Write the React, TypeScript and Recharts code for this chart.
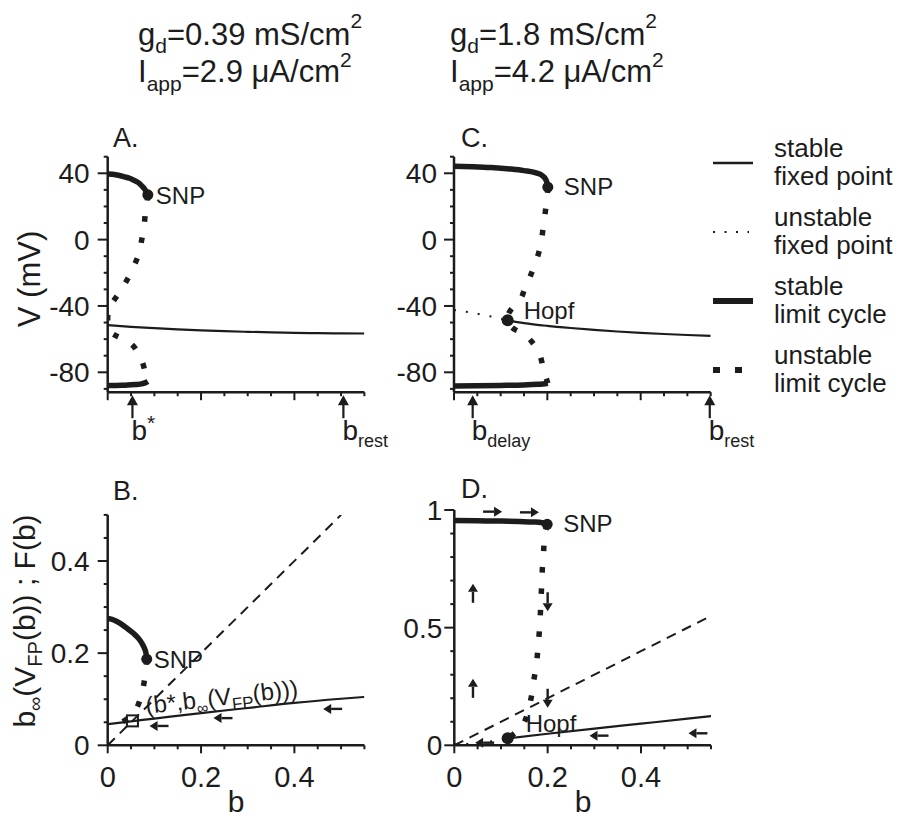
import React from 'react';
import { ComposedChart, Line, XAxis, YAxis, ReferenceDot } from 'recharts';

const FONT = '"Liberation Sans", Arial, Helvetica, sans-serif';
const INK = '#1c1c1c';
const PAGE_W = 902;
const PAGE_H = 821;

// ---------- axis ticks ----------
const bTicks = [0, 0.05, 0.1, 0.15, 0.2, 0.25, 0.3, 0.35, 0.4, 0.45, 0.5, 0.55];
const bMajorTicks = [0, 0.2, 0.4];
const vTicks = [-90, -80, -70, -60, -50, -40, -30, -20, -10, 0, 10, 20, 30, 40, 50];
const vMajorTicks = [-80, -40, 0, 40];
const gateTicksB = [0, 0.05, 0.1, 0.15, 0.2, 0.25, 0.3, 0.35, 0.4, 0.45, 0.5];
const gateMajorB = [0, 0.2, 0.4];
const gateTicksD = [0, 0.1, 0.2, 0.3, 0.4, 0.5, 0.6, 0.7, 0.8, 0.9, 1];
const gateMajorD = [0, 0.5, 1];

// ---------- panel A : V vs b, gd = 0.39 ----------
const aCycleUpper = [
  { b: 0, v: 39.5 }, { b: 0.017, v: 39.1 }, { b: 0.034, v: 38 }, { b: 0.047, v: 37 },
  { b: 0.055, v: 36 }, { b: 0.065, v: 34.5 }, { b: 0.073, v: 32.4 }, { b: 0.079, v: 30.5 },
  { b: 0.0836, v: 28.3 }, { b: 0.086, v: 27 },
];
const aCycleUnstable = [
  { b: 0.086, v: 27 }, { b: 0.084, v: 22 }, { b: 0.081, v: 17.4 }, { b: 0.079, v: 11 },
  { b: 0.076, v: 4.6 }, { b: 0.072, v: -1.5 }, { b: 0.068, v: -7.6 }, { b: 0.06, v: -13.5 },
  { b: 0.051, v: -19.4 }, { b: 0.04, v: -25 }, { b: 0.029, v: -30.2 }, { b: 0.016, v: -35.5 },
  { b: 0.004, v: -40.4 }, { b: 0.0005, v: -44 }, { b: 0, v: -48 }, { b: 0.0005, v: -52 },
  { b: 0.005, v: -55.6 }, { b: 0.022, v: -58.5 }, { b: 0.044, v: -61.6 }, { b: 0.06, v: -66 },
  { b: 0.071, v: -71.6 }, { b: 0.078, v: -77.5 }, { b: 0.082, v: -83.6 }, { b: 0.086, v: -85.5 },
];
const aCycleLower = [
  { b: 0, v: -88 }, { b: 0.03, v: -87.8 }, { b: 0.06, v: -87.4 }, { b: 0.075, v: -86.8 },
  { b: 0.083, v: -86 }, { b: 0.086, v: -85.5 },
];
const aFixedStable = [
  { b: 0, v: -51.6 }, { b: 0.05, v: -52.6 }, { b: 0.1, v: -53.4 }, { b: 0.15, v: -54.1 },
  { b: 0.2, v: -54.7 }, { b: 0.25, v: -55.2 }, { b: 0.3, v: -55.6 }, { b: 0.35, v: -55.9 },
  { b: 0.4, v: -56.2 }, { b: 0.45, v: -56.4 }, { b: 0.5, v: -56.5 }, { b: 0.55, v: -56.6 },
];
const aPoints = [{ b: 0.086, v: 27, name: 'SNP' }];
const aMarks = [
  { b: 0.053, main: 'b', sup: '*' },
  { b: 0.505, main: 'b', sub: 'rest' },
];

// ---------- panel C : V vs b, gd = 1.8 ----------
const cCycleUpper = [
  { b: 0, v: 44.3 }, { b: 0.04, v: 44 }, { b: 0.08, v: 43.5 }, { b: 0.12, v: 42.6 },
  { b: 0.15, v: 41.6 }, { b: 0.176, v: 40.2 }, { b: 0.19, v: 38.4 }, { b: 0.197, v: 36 },
  { b: 0.2, v: 33.5 }, { b: 0.201, v: 31.6 },
];
const cCycleUnstable = [
  { b: 0.201, v: 31.6 }, { b: 0.2, v: 27.5 }, { b: 0.198, v: 24 }, { b: 0.196, v: 17.5 },
  { b: 0.193, v: 11.4 }, { b: 0.19, v: 5 }, { b: 0.187, v: -1.2 }, { b: 0.182, v: -7.5 },
  { b: 0.175, v: -13.6 }, { b: 0.167, v: -19.5 }, { b: 0.159, v: -25 }, { b: 0.15, v: -30.8 },
  { b: 0.141, v: -36.4 }, { b: 0.121, v: -42.6 }, { b: 0.115, v: -48.6 }, { b: 0.124, v: -53 },
  { b: 0.139, v: -55.4 }, { b: 0.153, v: -57.6 }, { b: 0.168, v: -62 }, { b: 0.181, v: -67.4 },
  { b: 0.188, v: -73.5 }, { b: 0.193, v: -79.6 }, { b: 0.198, v: -84 }, { b: 0.201, v: -86.6 },
];
const cCycleLower = [
  { b: 0, v: -88.2 }, { b: 0.05, v: -88.1 }, { b: 0.1, v: -87.9 }, { b: 0.15, v: -87.6 },
  { b: 0.18, v: -87.2 }, { b: 0.195, v: -86.9 }, { b: 0.201, v: -86.6 },
];
const cFixedUnstable = [
  { b: 0, v: -42.4 }, { b: 0.04, v: -44.2 }, { b: 0.08, v: -46.4 }, { b: 0.115, v: -48.6 },
];
const cFixedStable = [
  { b: 0.115, v: -48.6 }, { b: 0.15, v: -50.3 }, { b: 0.2, v: -52 }, { b: 0.25, v: -53.3 },
  { b: 0.3, v: -54.4 }, { b: 0.35, v: -55.4 }, { b: 0.4, v: -56.2 }, { b: 0.45, v: -56.9 },
  { b: 0.5, v: -57.5 }, { b: 0.55, v: -58 },
];
const cPoints = [
  { b: 0.201, v: 31.6, name: 'SNP' },
  { b: 0.115, v: -48.6, name: 'Hopf' },
];
const cMarks = [
  { b: 0.04, main: 'b', sub: 'delay' },
  { b: 0.548, main: 'b', sub: 'rest' },
];

// ---------- panel B : b_inf(V_FP(b)) and F(b), gd = 0.39 ----------
const bCycleStable = [
  { b: 0, y: 0.2755 }, { b: 0.013, y: 0.272 }, { b: 0.026, y: 0.265 }, { b: 0.04, y: 0.255 },
  { b: 0.055, y: 0.243 }, { b: 0.066, y: 0.232 }, { b: 0.073, y: 0.222 }, { b: 0.078, y: 0.212 },
  { b: 0.082, y: 0.2 }, { b: 0.0836, y: 0.187 },
];
const bCycleUnstable = [
  { b: 0.0836, y: 0.187 }, { b: 0.082, y: 0.165 }, { b: 0.079, y: 0.143 }, { b: 0.075, y: 0.12 },
  { b: 0.069, y: 0.098 }, { b: 0.06, y: 0.077 }, { b: 0.045, y: 0.06 }, { b: 0.025, y: 0.048 },
  { b: 0.005, y: 0.042 }, { b: 0, y: 0.041 },
];
const bFixedStable = [
  { b: 0, y: 0.046 }, { b: 0.05, y: 0.052 }, { b: 0.1, y: 0.058 }, { b: 0.2, y: 0.07 },
  { b: 0.3, y: 0.081 }, { b: 0.4, y: 0.092 }, { b: 0.5, y: 0.101 }, { b: 0.55, y: 0.105 },
];
const bIdentity = [{ b: 0, y: 0 }, { b: 0.5, y: 0.5 }];
const bPoints = [{ b: 0.0836, y: 0.187, name: 'SNP' }];
const bCrossing = [{ b: 0.053, y: 0.053 }];
const bFlow = [
  { b: 0.11, y: 0.042, dir: 'left' },
  { b: 0.247, y: 0.059, dir: 'left' },
  { b: 0.482, y: 0.079, dir: 'left' },
];

// ---------- panel D : b_inf(V_FP(b)) and F(b), gd = 1.8 ----------
const dCycleStable = [
  { b: 0, y: 0.955 }, { b: 0.05, y: 0.954 }, { b: 0.1, y: 0.953 }, { b: 0.14, y: 0.951 },
  { b: 0.17, y: 0.949 }, { b: 0.188, y: 0.946 }, { b: 0.196, y: 0.943 }, { b: 0.199, y: 0.939 },
];
const dCycleUnstable = [
  { b: 0.199, y: 0.939 }, { b: 0.196, y: 0.915 }, { b: 0.194, y: 0.894 }, { b: 0.192, y: 0.85 },
  { b: 0.191, y: 0.806 }, { b: 0.189, y: 0.76 }, { b: 0.188, y: 0.717 }, { b: 0.187, y: 0.673 },
  { b: 0.186, y: 0.63 }, { b: 0.185, y: 0.587 }, { b: 0.184, y: 0.543 }, { b: 0.1825, y: 0.497 },
  { b: 0.181, y: 0.45 }, { b: 0.179, y: 0.406 }, { b: 0.177, y: 0.363 }, { b: 0.174, y: 0.318 },
  { b: 0.17, y: 0.273 }, { b: 0.167, y: 0.23 }, { b: 0.163, y: 0.186 }, { b: 0.152, y: 0.107 },
  { b: 0.135, y: 0.06 }, { b: 0.1144, y: 0.0297 },
];
const dFixedUnstable = [{ b: 0, y: 0.004 }, { b: 0.05, y: 0.009 }, { b: 0.1144, y: 0.0297 }];
const dFixedStable = [
  { b: 0.1144, y: 0.0297 }, { b: 0.2, y: 0.049 }, { b: 0.3, y: 0.071 }, { b: 0.4, y: 0.092 },
  { b: 0.5, y: 0.113 }, { b: 0.55, y: 0.124 },
];
const dIdentity = [{ b: 0, y: 0 }, { b: 0.55, y: 0.55 }];
const dPoints = [
  { b: 0.199, y: 0.939, name: 'SNP' },
  { b: 0.1144, y: 0.0297, name: 'Hopf' },
];
const dFlow = [
  { b: 0.082, y: 0.993, dir: 'right' },
  { b: 0.161, y: 0.99, dir: 'right' },
  { b: 0.04, y: 0.646, dir: 'up' },
  { b: 0.04, y: 0.242, dir: 'up' },
  { b: 0.2, y: 0.61, dir: 'down' },
  { b: 0.2, y: 0.2, dir: 'down' },
  { b: 0.31, y: 0.041, dir: 'left' },
  { b: 0.522, y: 0.051, dir: 'left' },
  { b: 0.065, y: 0.011, dir: 'left' },
];

// ---------- legend ----------
const legendItems = [
  { kind: 'fixedStable', lines: ['stable', 'fixed point'] },
  { kind: 'fixedUnstable', lines: ['unstable', 'fixed point'] },
  { kind: 'cycleStable', lines: ['stable', 'limit cycle'] },
  { kind: 'cycleUnstable', lines: ['unstable', 'limit cycle'] },
];

// ---------- styles ----------
const STYLE: Record<string, any> = {
  fixedStable: { strokeWidth: 2.2 },
  fixedUnstable: { strokeWidth: 2, strokeDasharray: '2 10' },
  cycleStable: { strokeWidth: 5.5 },
  cycleUnstable: { strokeWidth: 5.5, strokeDasharray: '5.5 16' },
  identity: { strokeWidth: 2, strokeDasharray: '10 7' },
};

const AXIS_LINE = { stroke: INK, strokeWidth: 2.5 };
const Y_AXIS_W = 60;
const X_AXIS_H = 30;
const TICK_FONT = 28;

type Frame = { x0: number; x1: number; y0: number; y1: number };
const FRAME_A: Frame = { x0: 107.7, x1: 364.4, y0: 156.7, y1: 392.2 };
const FRAME_C: Frame = { x0: 454, x1: 710.7, y0: 156.7, y1: 392.2 };
const FRAME_B: Frame = { x0: 107.7, x1: 364.4, y0: 514.9, y1: 745.3 };
const FRAME_D: Frame = { x0: 454.3, x1: 711, y0: 510, y1: 745.3 };

const marginFor = (f: Frame) => ({
  top: f.y0,
  left: f.x0 - Y_AXIS_W,
  right: PAGE_W - f.x1,
  bottom: PAGE_H - f.y1 - X_AXIS_H,
});

const near = (list: number[], v: number) => list.some((m) => Math.abs(m - v) < 1e-9);

type Mark = { b: number; main: string; sup?: string; sub?: string };

const makeXTick = (majors: number[], labelled: boolean, marks: Mark[]) => (props: any) => {
  const { x, y, payload } = props;
  const v = payload.value;
  const mark = marks.find((m) => Math.abs(m.b - v) < 1e-9);
  if (mark) {
    return (
      <g>
        <line x1={x} x2={x} y1={y + 10} y2={y + 26} stroke={INK} strokeWidth={2.2} />
        <path d={`M${x} ${y + 3} L${x - 5.5} ${y + 13} L${x + 5.5} ${y + 13} Z`} fill={INK} />
        <text x={x - 1} y={y + 48} fontSize={28} fontFamily={FONT} fill={INK}>
          {mark.main}
          {mark.sup && (
            <tspan dy={-10} fontSize={21}>
              {mark.sup}
            </tspan>
          )}
          {mark.sub && (
            <tspan dy={7} fontSize={18}>
              {mark.sub}
            </tspan>
          )}
        </text>
      </g>
    );
  }
  const major = near(majors, v);
  return (
    <g>
      <line x1={x} x2={x} y1={y} y2={y + (major ? 8 : 4)} stroke={INK} strokeWidth={2} />
      {labelled && major && (
        <text x={x} y={y + 42} textAnchor="middle" fontSize={TICK_FONT + 1} fontFamily={FONT} fill={INK}>
          {String(v)}
        </text>
      )}
    </g>
  );
};

const makeYTick = (majors: number[], gap: number) => (props: any) => {
  const { x, y, payload } = props;
  const v = payload.value;
  const major = near(majors, v);
  return (
    <g>
      <line x1={x} x2={x - (major ? 10 : 4)} y1={y} y2={y} stroke={INK} strokeWidth={2} />
      {major && (
        <text x={x - gap} y={y} dy="0.36em" textAnchor="end" fontSize={TICK_FONT} fontFamily={FONT} fill={INK}>
          {String(v)}
        </text>
      )}
    </g>
  );
};

function FlowArrow({ cx, cy, dir }: { cx: number; cy: number; dir: string }) {
  const len = 19;
  const head = 8;
  const half = 5;
  const [ux, uy] =
    dir === 'left' ? [-1, 0] : dir === 'right' ? [1, 0] : dir === 'up' ? [0, -1] : [0, 1];
  const tipX = cx + (ux * len) / 2;
  const tipY = cy + (uy * len) / 2;
  const tailX = cx - (ux * len) / 2;
  const tailY = cy - (uy * len) / 2;
  const baseX = tipX - ux * head;
  const baseY = tipY - uy * head;
  const px = -uy;
  const py = ux;
  return (
    <g>
      <line x1={tailX} y1={tailY} x2={baseX} y2={baseY} stroke={INK} strokeWidth={2.4} />
      <path
        d={`M${tipX} ${tipY} L${baseX + px * half} ${baseY + py * half} L${baseX - px * half} ${baseY - py * half} Z`}
        fill={INK}
      />
    </g>
  );
}

function Bifurcation({ cx, cy, name, dx, dy, r }: any) {
  return (
    <g>
      <circle cx={cx} cy={cy} r={r} fill={INK} />
      <text x={cx + dx} y={cy + dy} dy="0.36em" fontSize={24} fontFamily={FONT} fill={INK}>
        {name}
      </text>
    </g>
  );
}

const series = (data: any[], key: string, kind: string, curve: any) => (
  <Line
    data={data}
    dataKey={key}
    stroke={INK}
    {...STYLE[kind]}
    type={curve}
    dot={false}
    activeDot={false}
    isAnimationActive={false}
    legendType="none"
  />
);

const layer: React.CSSProperties = { position: 'absolute', left: 0, top: 0 };

const labelOffsets: Record<string, Record<string, [number, number]>> = {
  A: { SNP: [8, 1] },
  C: { SNP: [16, -1], Hopf: [16, -10] },
  B: { SNP: [7, 0] },
  D: { SNP: [16, -1], Hopf: [18, -15] },
};

const xAxisCommon = {
  dataKey: 'b',
  type: 'number' as const,
  domain: [0, 0.55] as [number, number],
  allowDataOverflow: true,
  interval: 0 as const,
  height: X_AXIS_H,
  tickLine: false,
  tickSize: 0,
  tickMargin: 0,
  axisLine: AXIS_LINE,
};

const yAxisCommon = {
  type: 'number' as const,
  allowDataOverflow: true,
  interval: 0 as const,
  width: Y_AXIS_W,
  tickLine: false,
  tickSize: 0,
  tickMargin: 0,
  axisLine: AXIS_LINE,
};

function PanelA() {
  return (
    <div style={layer}>
      <ComposedChart width={PAGE_W} height={PAGE_H} margin={marginFor(FRAME_A)}>
        <XAxis
          {...xAxisCommon}
          ticks={[...bTicks, ...aMarks.map((m) => m.b)]}
          tick={makeXTick(bMajorTicks, false, aMarks)}
        />
        <YAxis {...yAxisCommon} domain={[-92, 50]} ticks={vTicks} tick={makeYTick(vMajorTicks, 18)} />
        {series(aFixedStable, 'v', 'fixedStable', 'monotone')}
        {series(aCycleUpper, 'v', 'cycleStable', 'monotone')}
        {series(aCycleLower, 'v', 'cycleStable', 'monotone')}
        {series(aCycleUnstable, 'v', 'cycleUnstable', 'natural')}
        {aPoints.map((p) => (
          <ReferenceDot
            key={p.name}
            x={p.b}
            y={p.v}
            r={5}
            ifOverflow="visible"
            shape={(s: any) => (
              <Bifurcation cx={s.cx} cy={s.cy} r={5.5} name={p.name} dx={labelOffsets.A[p.name][0]} dy={labelOffsets.A[p.name][1]} />
            )}
          />
        ))}
      </ComposedChart>
    </div>
  );
}

function PanelC() {
  return (
    <div style={layer}>
      <ComposedChart width={PAGE_W} height={PAGE_H} margin={marginFor(FRAME_C)}>
        <XAxis
          {...xAxisCommon}
          ticks={[...bTicks, ...cMarks.map((m) => m.b)]}
          tick={makeXTick(bMajorTicks, false, cMarks)}
        />
        <YAxis {...yAxisCommon} domain={[-92, 50]} ticks={vTicks} tick={makeYTick(vMajorTicks, 17)} />
        {series(cFixedUnstable, 'v', 'fixedUnstable', 'monotone')}
        {series(cFixedStable, 'v', 'fixedStable', 'monotone')}
        {series(cCycleUpper, 'v', 'cycleStable', 'monotone')}
        {series(cCycleLower, 'v', 'cycleStable', 'monotone')}
        {series(cCycleUnstable, 'v', 'cycleUnstable', 'natural')}
        {cPoints.map((p) => (
          <ReferenceDot
            key={p.name}
            x={p.b}
            y={p.v}
            r={5}
            ifOverflow="visible"
            shape={(s: any) => (
              <Bifurcation cx={s.cx} cy={s.cy} r={p.name === 'Hopf' ? 6 : 5.5} name={p.name} dx={labelOffsets.C[p.name][0]} dy={labelOffsets.C[p.name][1]} />
            )}
          />
        ))}
      </ComposedChart>
    </div>
  );
}

function PanelB() {
  return (
    <div style={layer}>
      <ComposedChart width={PAGE_W} height={PAGE_H} margin={marginFor(FRAME_B)}>
        <XAxis {...xAxisCommon} ticks={bTicks} tick={makeXTick(bMajorTicks, true, [])} />
        <YAxis {...yAxisCommon} domain={[0, 0.5]} ticks={gateTicksB} tick={makeYTick(gateMajorB, 18)} />
        {series(bIdentity, 'y', 'identity', 'linear')}
        {series(bFixedStable, 'y', 'fixedStable', 'monotone')}
        {series(bCycleStable, 'y', 'cycleStable', 'monotone')}
        {series(bCycleUnstable, 'y', 'cycleUnstable', 'natural')}
        {bPoints.map((p) => (
          <ReferenceDot
            key={p.name}
            x={p.b}
            y={p.y}
            r={5}
            ifOverflow="visible"
            shape={(s: any) => (
              <Bifurcation cx={s.cx} cy={s.cy} r={5.5} name={p.name} dx={labelOffsets.B[p.name][0]} dy={labelOffsets.B[p.name][1]} />
            )}
          />
        ))}
        {bCrossing.map((p, i) => (
          <ReferenceDot
            key={`cross-${i}`}
            x={p.b}
            y={p.y}
            r={5}
            ifOverflow="visible"
            shape={(s: any) => (
              <g>
                <rect x={s.cx - 5.5} y={s.cy - 5.5} width={11} height={11} fill="none" stroke={INK} strokeWidth={2} />
                <text
                  transform={`translate(${s.cx + 14} ${s.cy - 7}) rotate(-6.5)`}
                  fontSize={24}
                  fontFamily={FONT}
                  fill={INK}
                >
                  (b*,b
                  <tspan dy={6} fontSize={16}>∞</tspan>
                  <tspan dy={-6}>(V</tspan>
                  <tspan dy={6} fontSize={17}>FP</tspan>
                  <tspan dy={-6}>(b)))</tspan>
                </text>
              </g>
            )}
          />
        ))}
        {bFlow.map((a, i) => (
          <ReferenceDot
            key={`flow-${i}`}
            x={a.b}
            y={a.y}
            r={1}
            ifOverflow="visible"
            shape={(s: any) => <FlowArrow cx={s.cx} cy={s.cy} dir={a.dir} />}
          />
        ))}
      </ComposedChart>
    </div>
  );
}

function PanelD() {
  return (
    <div style={layer}>
      <ComposedChart width={PAGE_W} height={PAGE_H} margin={marginFor(FRAME_D)}>
        <XAxis {...xAxisCommon} ticks={bTicks} tick={makeXTick(bMajorTicks, true, [])} />
        <YAxis {...yAxisCommon} domain={[0, 1]} ticks={gateTicksD} tick={makeYTick(gateMajorD, 12)} />
        {series(dIdentity, 'y', 'identity', 'linear')}
        {series(dFixedUnstable, 'y', 'fixedUnstable', 'monotone')}
        {series(dFixedStable, 'y', 'fixedStable', 'monotone')}
        {series(dCycleStable, 'y', 'cycleStable', 'monotone')}
        {series(dCycleUnstable, 'y', 'cycleUnstable', 'natural')}
        {dPoints.map((p) => (
          <ReferenceDot
            key={p.name}
            x={p.b}
            y={p.y}
            r={5}
            ifOverflow="visible"
            shape={(s: any) => (
              <Bifurcation cx={s.cx} cy={s.cy} r={p.name === 'Hopf' ? 6 : 5.5} name={p.name} dx={labelOffsets.D[p.name][0]} dy={labelOffsets.D[p.name][1]} />
            )}
          />
        ))}
        {dFlow.map((a, i) => (
          <ReferenceDot
            key={`flow-${i}`}
            x={a.b}
            y={a.y}
            r={1}
            ifOverflow="visible"
            shape={(s: any) => <FlowArrow cx={s.cx} cy={s.cy} dir={a.dir} />}
          />
        ))}
      </ComposedChart>
    </div>
  );
}

function Heading({ x, gd, iapp }: { x: number; gd: string; iapp: string }) {
  return (
    <g fontFamily={FONT} fill={INK}>
      <text x={x} y={45} fontSize={31}>
        g<tspan dy={8} fontSize={21}>d</tspan>
        <tspan dy={-8}>={gd} mS/cm</tspan>
        <tspan dy={-17} fontSize={21}>2</tspan>
      </text>
      <text x={x} y={82} fontSize={31}>
        I<tspan dy={9} fontSize={21}>app</tspan>
        <tspan dy={-9}>={iapp} μA/cm</tspan>
        <tspan dy={-15} fontSize={21}>2</tspan>
      </text>
    </g>
  );
}

function LegendSwatch({ kind, y }: { kind: string; y: number }) {
  const widths: Record<string, any> = {
    fixedStable: { x2: 753, strokeWidth: 2.5 },
    fixedUnstable: { x2: 749, strokeWidth: 2, strokeDasharray: '2 9.5' },
    cycleStable: { x2: 753, strokeWidth: 6 },
    cycleUnstable: { x2: 743, strokeWidth: 6, strokeDasharray: '7 15' },
  };
  const { x2, ...rest } = widths[kind];
  return <line x1={713} x2={x2} y1={y} y2={y} stroke={INK} {...rest} />;
}

function Overlay() {
  return (
    <svg width={PAGE_W} height={PAGE_H} style={{ ...layer, pointerEvents: 'none' }}>
      <Heading x={138} gd="0.39" iapp="2.9" />
      <Heading x={450} gd="1.8" iapp="4.2" />

      <g fontFamily={FONT} fill={INK} fontSize={27}>
        <text x={113} y={147}>A.</text>
        <text x={461} y={147}>C.</text>
        <text x={113} y={500}>B.</text>
        <text x={461} y={498}>D.</text>
      </g>

      <g fontFamily={FONT} fill={INK}>
        <text transform="translate(40 279) rotate(-90)" textAnchor="middle" fontSize={31}>
          V (mV)
        </text>
        <text transform="translate(35 621) rotate(-90)" textAnchor="middle" fontSize={30}>
          b<tspan dy={7} fontSize={20}>∞</tspan>
          <tspan dy={-7}>(V</tspan>
          <tspan dy={7} fontSize={20}>FP</tspan>
          <tspan dy={-7}>(b)) ; F(b)</tspan>
        </text>
        <text x={236} y={812} textAnchor="middle" fontSize={30}>b</text>
        <text x={583} y={812} textAnchor="middle" fontSize={30}>b</text>
      </g>

      <g fontFamily={FONT} fill={INK} fontSize={26}>
        {legendItems.map((item, i) => {
          const base = 157 + i * 69;
          return (
            <g key={item.kind}>
              <LegendSwatch kind={item.kind} y={base + 6} />
              <text x={774} y={base}>{item.lines[0]}</text>
              <text x={774} y={base + 28}>{item.lines[1]}</text>
            </g>
          );
        })}
      </g>
    </svg>
  );
}

export default function App() {
  return (
    <div
      style={{
        position: 'absolute',
        left: 0,
        top: 0,
        width: PAGE_W,
        height: PAGE_H,
        background: '#fff',
        overflow: 'hidden',
      }}
    >
      <PanelA />
      <PanelC />
      <PanelB />
      <PanelD />
      <Overlay />
    </div>
  );
}
